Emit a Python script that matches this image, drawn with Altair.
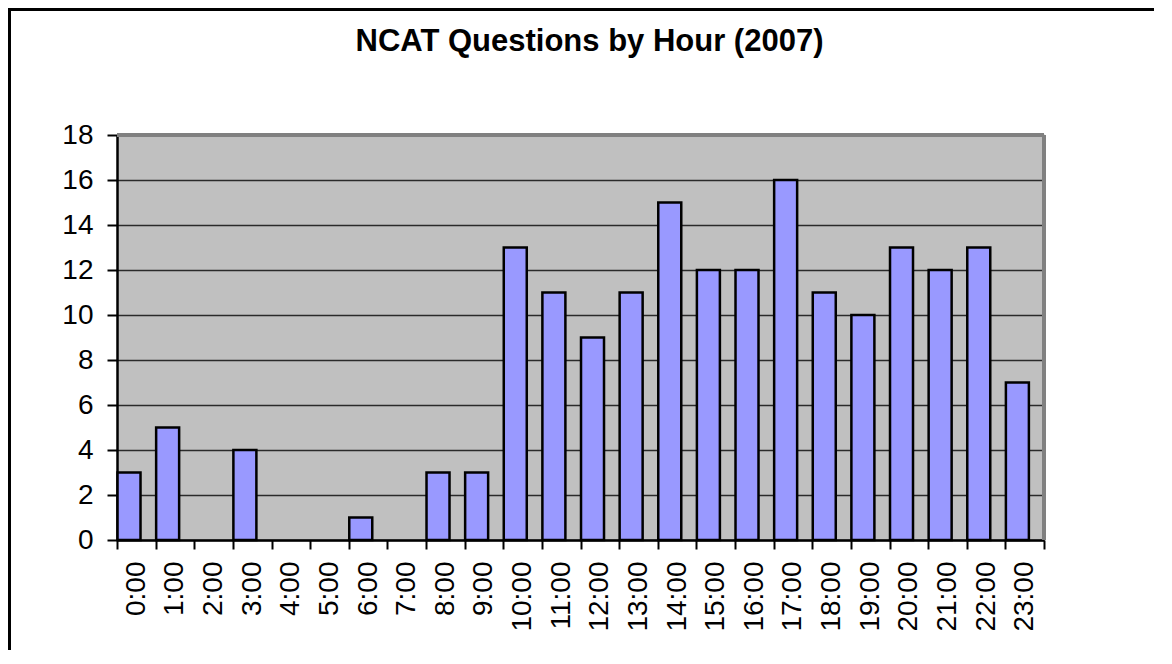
import altair as alt
import pandas as pd

hours = [f"{h}:00" for h in range(24)]
counts = [3, 5, 0, 4, 0, 0, 1, 0, 3, 3, 13, 11, 9, 11, 15, 12, 12, 16, 11, 10, 13, 12, 13, 7]

df = pd.DataFrame({"hour": hours, "count": counts})

W, H = 927, 405
FONT = "Liberation Sans"

x_enc = alt.X(
    "hour:N",
    sort=hours,
    scale=alt.Scale(domain=hours, paddingInner=0, paddingOuter=0),
    axis=alt.Axis(
        title=None,
        labelAngle=-90,
        labelFontSize=28,
        labelFont=FONT,
        labelColor="black",
        labelPadding=12,
        tickBand="extent",
        tickSize=9,
        tickWidth=2,
        tickColor="black",
        domainColor="black",
        domainWidth=2.5,
        grid=False,
    ),
)
y_enc = alt.Y(
    "count:Q",
    scale=alt.Scale(domain=[0, 18], nice=False),
    axis=alt.Axis(
        title=None,
        values=list(range(0, 19, 2)),
        labelFontSize=28,
        labelFont=FONT,
        labelColor="black",
        labelPadding=14,
        tickSize=10,
        tickWidth=2,
        tickColor="black",
        domainColor="black",
        domainWidth=2.5,
        grid=True,
        gridColor="#2a2a2a",
        gridWidth=1.5,
    ),
)

bars = alt.Chart(df).transform_filter("datum.count > 0").mark_bar(
    width=23, xOffset=-7.3, fill="#9999FF", stroke="black", strokeWidth=2.5
).encode(x=x_enc, y=y_enc)

top_border = alt.Chart(df).mark_rule(color="#808080", strokeWidth=3).encode(
    x=alt.value(0), x2=alt.value(W), y=alt.value(0)
)
right_border = alt.Chart(df).mark_rule(color="#808080", strokeWidth=3).encode(
    x=alt.value(W), y=alt.value(0), y2=alt.value(H)
)
outer_top = alt.Chart(df).mark_rule(color="black", strokeWidth=3).encode(
    x=alt.value(-109), x2=alt.value(W + 110), y=alt.value(-125.5)
)
outer_left = alt.Chart(df).mark_rule(color="black", strokeWidth=3).encode(
    x=alt.value(-107.5), y=alt.value(-127), y2=alt.value(H + 110)
)

chart = alt.layer(bars, top_border, right_border, outer_top, outer_left).properties(
    width=W,
    height=H,
    background="white",
    title=alt.TitleParams(
        "NCAT Questions by Hour (2007)",
        font=FONT,
        fontSize=31,
        fontWeight="bold",
        color="black",
        anchor="middle",
        baseline="alphabetic",
        dx=9,
        offset=-75,
    ),
    autosize=alt.AutoSizeParams(type="none"),
    padding={"left": 109, "top": 127, "right": 110, "bottom": 110},
).configure_view(stroke=None, fill="#C0C0C0")

chart.save("out.html", embed_options={"renderer": "svg", "actions": False})
